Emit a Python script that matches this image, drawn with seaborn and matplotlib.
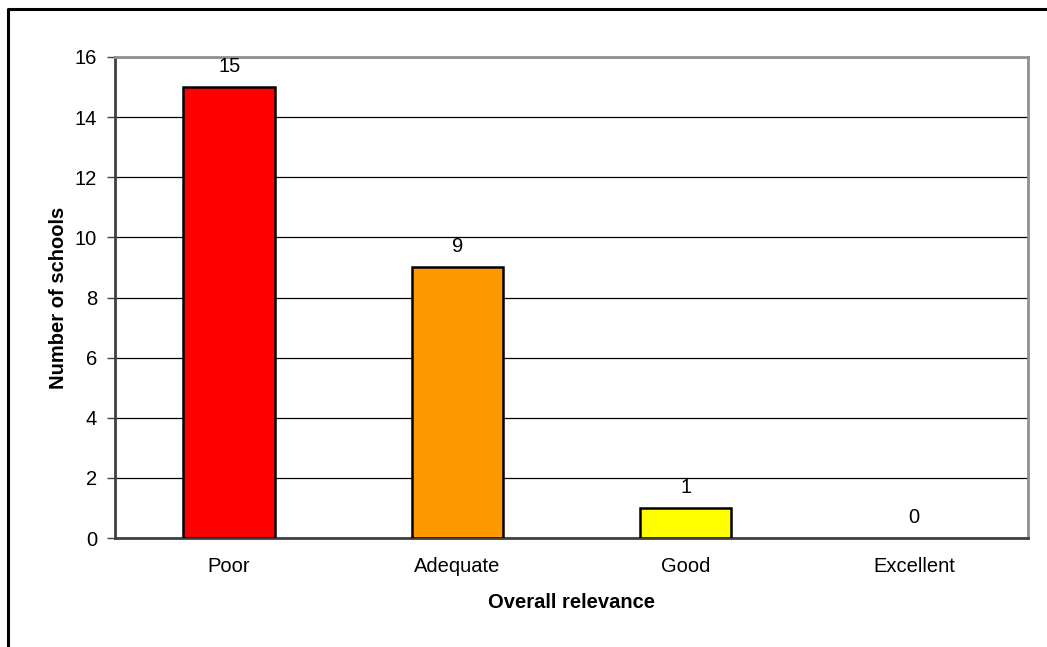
import matplotlib
matplotlib.use("Agg")
import matplotlib.pyplot as plt
from matplotlib.lines import Line2D
import seaborn as sns
import pandas as pd
import numpy as np

categories = ["Poor", "Adequate", "Good", "Excellent"]
counts = [15, 9, 1, 0]
bar_colors = ["#FF0000", "#FF9900", "#FFFF00", "#FFFFFF"]

sns.set_theme(style="white")
plt.rcParams["font.family"] = ["Liberation Sans", "DejaVu Sans"]
plt.rcParams["text.color"] = "black"
plt.rcParams["axes.labelcolor"] = "black"

df = pd.DataFrame({"category": categories, "count": counts})

fig = plt.figure(figsize=(10.47, 6.47), dpi=100)
ax = fig.add_axes([115 / 1047, 1 - 538 / 647, (1028 - 115) / 1047, (538 - 57) / 647])

sns.barplot(data=df, x="category", y="count", hue="category",
            palette=bar_colors, order=categories, hue_order=categories,
            width=0.4, edgecolor="black", linewidth=1.8, legend=False,
            saturation=1, ax=ax, zorder=3)

fs = 14.5
for container in ax.containers:
    for patch, v in zip(container.patches, container.datavalues):
        if v == 0:
            patch.set_linewidth(0)
    ax.bar_label(container, labels=[f"{v:g}" for v in container.datavalues],
                 padding=8, fontsize=fs, color="black")

ax.set_xlim(-0.5, len(categories) - 0.5)
ax.set_ylim(0, 16)
ax.set_yticks(np.arange(0, 17, 2))
ax.yaxis.grid(True, color="black", linewidth=0.9, zorder=0)
ax.set_axisbelow(True)

ax.set_xticks(np.arange(len(categories)))
ax.set_xticklabels(categories)
ax.set_xticks(np.arange(-0.5, len(categories)), minor=True)
ax.tick_params(axis="x", which="major", length=0, pad=14, labelsize=fs, labelcolor="black")
ax.tick_params(axis="x", which="minor", length=6, width=1, color="#404040", direction="out")
ax.tick_params(axis="y", which="major", length=6, width=1, color="#404040", direction="out",
               pad=7, labelsize=fs, labelcolor="black", left=True)

for side in ["left", "bottom"]:
    ax.spines[side].set_color("#404040")
    ax.spines[side].set_linewidth(2)
for side in ["top", "right"]:
    ax.spines[side].set_color("#909090")
    ax.spines[side].set_linewidth(2)

ax.set_xlabel("Overall relevance", fontsize=fs, fontweight="bold", labelpad=12, color="black")
ax.set_ylabel("Number of schools", fontsize=fs, fontweight="bold", labelpad=5, color="black")

# chart frame along the top and left edges
fig.add_artist(Line2D([7.5 / 1047, 7.5 / 1047, 1.0], [0.0, 1 - 8.5 / 647, 1 - 8.5 / 647],
                      transform=fig.transFigure, color="black", linewidth=2.2))

fig.savefig("out.png", dpi=100, facecolor="white")
